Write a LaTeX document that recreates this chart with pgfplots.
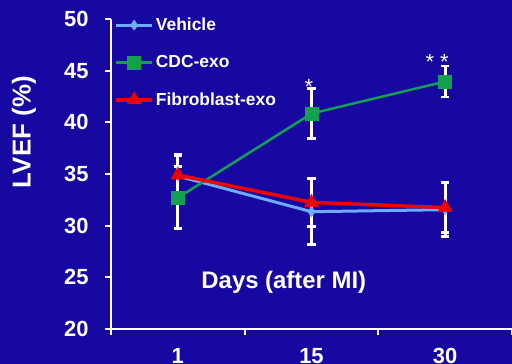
\documentclass[border=0pt]{standalone}
\usepackage{pgfplots}
\pgfplotsset{compat=1.18}
\usepackage{fontspec}
\setmainfont{Liberation Sans}
\definecolor{bg}{RGB}{22,8,160}
\definecolor{vehc}{RGB}{110,170,255}
\definecolor{cdcc}{RGB}{20,160,80}
\definecolor{fibc}{RGB}{240,0,0}
\begin{document}
\begin{tikzpicture}
\fill[bg] (0bp,0bp) rectangle (512bp,364bp);
\path[use as bounding box] (0bp,0bp) rectangle (512bp,364bp);
\begin{axis}[
  at={(111bp,35bp)}, anchor=south west,
  scale only axis, width=401bp, height=310bp,
  xmin=-0.5, xmax=2.5, ymin=20, ymax=50,
  axis lines*=left,
  axis line style={white, line width=2.2bp},
  xtick={-0.5,0.5,1.5,2.5}, x tick label as interval, xticklabels={1,15,30},
  ytick={20,25,...,50},
  tick align=outside, major tick length=6bp,
  tick style={white, line width=2bp},
  ticklabel style={font=\fontsize{22}{24}\selectfont\bfseries, text=white},
  yticklabel style={xshift=-13bp},
  xticklabel style={yshift=-10bp},
  /pgf/number format/assume math mode=true,
  ylabel={LVEF (\%)},
  y label style={at={(axis description cs:-0.217,0.635)}, anchor=center, font=\fontsize{26}{28}\selectfont\bfseries, text=white},
  xlabel={Days (after MI)},
  x label style={at={(axis description cs:0.431,0.152)}, anchor=center, font=\fontsize{24}{26}\selectfont\bfseries, text=white},
  legend style={at={(axis description cs:0.008,1.01)}, anchor=north west, draw=none, fill=none, text=white,
    font=\fontsize{17.5}{20}\selectfont\bfseries, row sep=19.5bp, inner sep=0pt},
  legend cell align=left,
  legend image code/.code={\draw[mark repeat=2,mark phase=2] plot coordinates {(0bp,0bp) (18bp,0bp) (36bp,0bp)};},
  error bars/error bar style={white, line width=2.8bp},
  error bars/error mark options={white, line width=2.8bp, mark size=4.2bp, rotate=90},
]
\addplot[vehc, line width=3bp, mark=diamond*, mark size=5bp, mark options={solid, fill=vehc, draw=vehc, line width=0.5bp},
  error bars/.cd, y dir=both, y explicit]
  coordinates {(0,34.8) +- (0,2.0) (1,31.35) +- (0,3.2) (2,31.55) +- (0,2.6)};
\addlegendentry{Vehicle}
\addplot[cdcc, line width=2.5bp, mark=square*, mark size=6.5bp, mark options={solid, fill=cdcc, draw=cdcc, line width=0.5bp},
  error bars/.cd, y dir=both, y explicit]
  coordinates {(0,32.7) +- (0,3.0) (1,40.85) +- (0,2.4) (2,43.95) +- (0,1.5)};
\addlegendentry{CDC-exo}
\addplot[fibc, line width=3.5bp, mark=triangle*, mark size=8bp, mark options={solid, fill=fibc, draw=fibc, line width=0.5bp},
  error bars/.cd, y dir=both, y explicit]
  coordinates {(0,34.9) +- (0,2.0) (1,32.25) +- (0,2.3) (2,31.75) +- (0,2.4)};
\addlegendentry{Fibroblast-exo}
\node[anchor=base, text=white, font=\fontsize{22}{24}\selectfont] at (axis cs:0.98,42.74) {*};
\node[anchor=base, text=white, font=\fontsize{22}{24}\selectfont] at (axis cs:1.94,45.1) {* *};
\end{axis}
\end{tikzpicture}
\end{document}
